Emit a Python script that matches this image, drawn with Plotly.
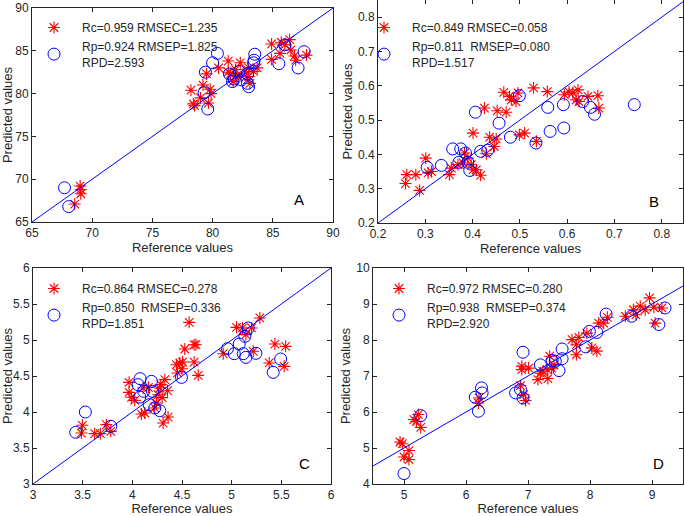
import plotly.graph_objects as go

# ---- data ----
a_cal_x = [69.0, 69.05, 69.05, 68.55, 78.2, 78.4, 78.5, 79.2, 79.0, 79.5, 79.8, 79.65, 79.87,
           80.5, 81.3, 81.3, 81.7, 81.9, 82.3, 82.4, 83.0, 83.0, 83.1, 83.4, 83.7, 84.9, 84.9,
           85.6, 85.7, 86.4, 86.5, 86.8, 86.9, 87.8, 86.0, 81.5, 82.0, 82.8]
a_cal_y = [69.2, 68.8, 68.3, 67.1, 80.4, 78.8, 78.6, 81.0, 79.5, 82.3, 80.5, 78.9, 80.0,
           83.0, 83.8, 82.5, 81.4, 82.8, 83.6, 82.0, 82.0, 83.0, 81.2, 82.6, 83.0, 85.8, 84.0,
           84.7, 86.0, 86.3, 85.1, 84.4, 83.9, 84.5, 85.7, 82.3, 82.1, 82.4]
a_val_x = [67.7, 68.05, 79.3, 79.4, 79.6, 80.0, 80.4, 81.4, 81.65, 81.8, 82.2, 82.4, 82.9,
           83.0, 82.9, 83.5, 83.45, 83.4, 85.5, 86.0, 87.1, 87.6]
a_val_y = [69.0, 66.8, 80.1, 82.5, 78.2, 83.6, 84.7, 82.3, 81.4, 81.7, 82.6, 81.6, 81.2,
           80.8, 82.3, 84.6, 83.9, 83.6, 83.5, 85.7, 83.0, 84.9]

b_cal_x = [0.258, 0.261, 0.280, 0.288, 0.301, 0.306, 0.313, 0.351, 0.355, 0.369, 0.383, 0.390,
           0.397, 0.401, 0.408, 0.417, 0.401, 0.425, 0.429, 0.436, 0.446, 0.452, 0.466, 0.471,
           0.478, 0.482, 0.492, 0.496, 0.499, 0.510, 0.529, 0.535, 0.558, 0.594, 0.604, 0.612,
           0.623, 0.619, 0.625, 0.644, 0.665, 0.667, 0.450, 0.380]
b_cal_y = [0.315, 0.341, 0.341, 0.295, 0.389, 0.346, 0.350, 0.341, 0.360, 0.370, 0.404, 0.389,
           0.370, 0.355, 0.355, 0.339, 0.462, 0.535, 0.402, 0.450, 0.423, 0.527, 0.581, 0.523,
           0.569, 0.559, 0.554, 0.579, 0.457, 0.462, 0.594, 0.438, 0.583, 0.574, 0.582, 0.579,
           0.588, 0.559, 0.554, 0.569, 0.571, 0.535, 0.445, 0.375]
b_val_x = [0.304, 0.334, 0.358, 0.371, 0.375, 0.385, 0.390, 0.394, 0.406, 0.417, 0.432, 0.456,
           0.480, 0.499, 0.534, 0.559, 0.564, 0.592, 0.593, 0.633, 0.649, 0.658, 0.742]
b_val_y = [0.362, 0.368, 0.416, 0.377, 0.416, 0.404, 0.377, 0.353, 0.523, 0.409, 0.412, 0.491,
           0.450, 0.571, 0.433, 0.537, 0.467, 0.545, 0.477, 0.554, 0.537, 0.517, 0.545]

c_cal_x = [3.497, 3.487, 3.621, 3.678, 3.739, 3.783, 3.967, 3.967, 3.991, 4.024, 4.092, 4.125,
           4.108, 4.162, 4.226, 4.243, 4.26, 4.276, 4.286, 4.30, 4.31, 4.327, 4.354, 4.36,
           4.444, 4.478, 4.505, 4.454, 4.528, 4.572, 4.622, 4.64, 4.622, 4.663, 4.915, 5.049,
           5.11, 5.143, 5.20, 5.217, 5.284, 5.378, 5.435, 5.543, 5.529, 4.50]
c_cal_y = [3.815, 3.708, 3.699, 3.699, 3.824, 3.731, 4.412, 4.273, 4.204, 4.162, 3.972, 3.986,
           4.333, 4.343, 4.056, 4.125, 4.24, 4.333, 4.38, 4.20, 3.847, 4.449, 4.296, 3.93,
           4.657, 4.68, 4.694, 4.542, 4.875, 5.245, 4.935, 4.935, 4.694, 4.509, 4.81, 5.176,
           5.167, 5.074, 5.167, 4.843, 5.306, 4.681, 4.944, 4.912, 4.634, 4.60]
c_val_x = [3.43, 3.527, 3.783, 4.058, 4.078, 4.075, 4.115, 4.169, 4.192, 4.203, 4.226, 4.276,
           4.495, 4.958, 5.026, 5.076, 5.116, 5.133, 5.143, 5.167, 5.244, 5.418, 5.493]
c_val_y = [3.718, 4.0, 3.801, 4.380, 4.463, 4.208, 4.287, 4.102, 4.426, 4.287, 4.056, 4.019,
           4.481, 4.88, 4.81, 4.944, 4.81, 5.051, 4.759, 5.167, 4.815, 4.551, 4.736]

d_cal_x = [4.936, 4.973, 5.0, 5.08, 5.08, 5.16, 5.2, 5.23, 5.27, 6.2, 6.21, 6.88, 6.9, 6.9,
           6.93, 6.96, 7.01, 7.16, 7.2, 7.24, 7.31, 7.32, 7.35, 7.38, 7.42, 7.71, 7.78, 7.78,
           7.82, 7.95, 8.03, 8.11, 8.14, 8.22, 8.28, 8.7, 8.74, 8.81, 8.89, 8.96, 9.03, 9.05,
           9.16, 8.57]
d_cal_y = [5.167, 5.12, 4.75, 4.93, 4.68, 5.79, 5.74, 5.93, 5.57, 6.25, 6.39, 6.73, 7.27, 7.18,
           6.48, 6.32, 7.22, 6.9, 7.08, 7.13, 7.18, 6.93, 7.55, 7.22, 7.31, 8.01, 7.87, 7.59,
           8.07, 8.19, 7.78, 7.69, 8.47, 8.47, 8.63, 8.84, 8.7, 8.94, 8.84, 9.17, 8.91, 8.47,
           8.89, 8.66]
d_val_x = [5.0, 5.27, 6.15, 6.2, 6.25, 6.26, 6.8, 6.88, 6.92, 6.92, 7.2, 7.39, 7.44, 7.5,
           7.55, 7.55, 7.93, 7.99, 8.11, 8.26, 8.67, 9.11, 9.21]
d_val_y = [4.29, 5.9, 6.41, 6.02, 6.67, 6.53, 6.53, 6.62, 7.66, 6.39, 7.31, 7.43, 7.41, 7.15,
           7.48, 7.75, 7.81, 8.24, 8.21, 8.72, 8.66, 8.43, 8.89]

cal_labels = ["Rc=0.959 RMSEC=1.235", "Rc=0.849 RMSEC=0.058",
              "Rc=0.864 RMSEC=0.278", "Rc=0.972 RMSEC=0.280"]
val_labels = ["Rp=0.924 RMSEP=1.825<br>RPD=2.593", "Rp=0.811  RMSEP=0.080<br>RPD=1.517",
              "Rp=0.850  RMSEP=0.336<br>RPD=1.851", "Rp=0.938  RMSEP=0.374<br>RPD=2.920"]
letters = ["A", "B", "C", "D"]
limits_x = [[65, 90], [0.2, 0.845], [3, 6], [4.5, 9.5]]
limits_y = [[65, 90], [0.2, 0.85], [3, 6], [4, 10]]
ticks_x = [[65, 70, 75, 80, 85, 90], [0.2, 0.3, 0.4, 0.5, 0.6, 0.7, 0.8],
           [3, 3.5, 4, 4.5, 5, 5.5, 6], [5, 6, 7, 8, 9]]
ticks_y = [[65, 70, 75, 80, 85, 90], [0.2, 0.3, 0.4, 0.5, 0.6, 0.7, 0.8],
           [3, 3.5, 4, 4.5, 5, 5.5, 6], [4, 5, 6, 7, 8, 9, 10]]

panels = [(a_cal_x, a_cal_y, a_val_x, a_val_y), (b_cal_x, b_cal_y, b_val_x, b_val_y),
          (c_cal_x, c_cal_y, c_val_x, c_val_y), (d_cal_x, d_cal_y, d_val_x, d_val_y)]

W, H = 685, 516
# plot boxes in pixels: left, right, top, bottom
boxes = [(32, 333, 8, 222), (378, 683, 0, 223), (33, 331, 268, 484), (373, 683, 268, 484)]
# legend anchor (pixels) and panel letter centre (pixels)
legend_pos = [(26, 13), (356, 13), (26, 274), (371, 274)]
letter_px = [(306, 210), (661, 212), (312, 474), (666, 474)]

FONT = "Arial, Liberation Sans, sans-serif"
AX = "#262626"

fig = go.Figure()
layout = dict()
for i, (cx, cy, vx, vy) in enumerate(panels):
    n = "" if i == 0 else str(i + 1)
    xa, ya = "x" + n, "y" + n
    lg = "legend" + n
    fig.add_trace(go.Scatter(
        x=cx, y=cy, mode="markers", name=cal_labels[i], xaxis=xa, yaxis=ya, legend=lg,
        marker=dict(symbol="asterisk-open", size=10, color="red", line=dict(color="red", width=1.1)),
    ))
    fig.add_trace(go.Scatter(
        x=vx, y=vy, mode="markers", name=val_labels[i], xaxis=xa, yaxis=ya, legend=lg,
        marker=dict(symbol="circle-open", size=12, color="blue", line=dict(color="blue", width=1)),
    ))
    # 1:1 line across the axis limits
    lim = [min(limits_x[i][0], limits_y[i][0]), max(limits_x[i][1], limits_y[i][1])]
    fig.add_trace(go.Scatter(
        x=lim, y=lim, mode="lines", showlegend=False, xaxis=xa, yaxis=ya,
        line=dict(color="blue", width=1), hoverinfo="skip",
    ))

    l, r, t, b = boxes[i]
    axis_common = dict(
        showline=True, mirror="ticks", linecolor=AX, linewidth=1, automargin=False,
        ticks="inside", ticklen=4, tickcolor=AX, showgrid=False, zeroline=False,
        tickfont=dict(family=FONT, size=12, color=AX),
    )
    layout["xaxis" + n] = dict(
        axis_common, domain=[l / W, r / W], range=limits_x[i], tickvals=ticks_x[i],
        anchor=ya, title=dict(text="Reference values", standoff=2 if i < 2 else 0,
                              font=dict(family=FONT, size=13, color=AX)),
    )
    layout["yaxis" + n] = dict(
        axis_common, domain=[1 - b / H, 1 - t / H], range=limits_y[i], tickvals=ticks_y[i],
        anchor=xa, title=dict(text="Predicted values", standoff=2,
                              font=dict(family=FONT, size=13, color=AX)),
    )
    lx, ly = legend_pos[i]
    layout[lg] = dict(
        x=lx / W, y=1 - ly / H, xanchor="left", yanchor="top",
        bgcolor="rgba(0,0,0,0)", borderwidth=0, itemwidth=46,
        font=dict(family=FONT, size=12, color=AX), tracegroupgap=0,
    )
    px, py = letter_px[i]
    fig.add_annotation(
        text=letters[i], x=(px - l) / (r - l), y=(b - py) / (b - t),
        xref=xa + " domain", yref=ya + " domain", showarrow=False,
        font=dict(family=FONT, size=15, color="black"),
    )

fig.update_layout(
    **layout,
    width=W, height=H,
    margin=dict(l=0, r=0, t=0, b=0),
    paper_bgcolor="white", plot_bgcolor="white",
)

# drop the default page margin so the figure fills the window
fig.write_html("out.html", config={"displayModeBar": False},
               post_script="document.body.style.margin='0';")
